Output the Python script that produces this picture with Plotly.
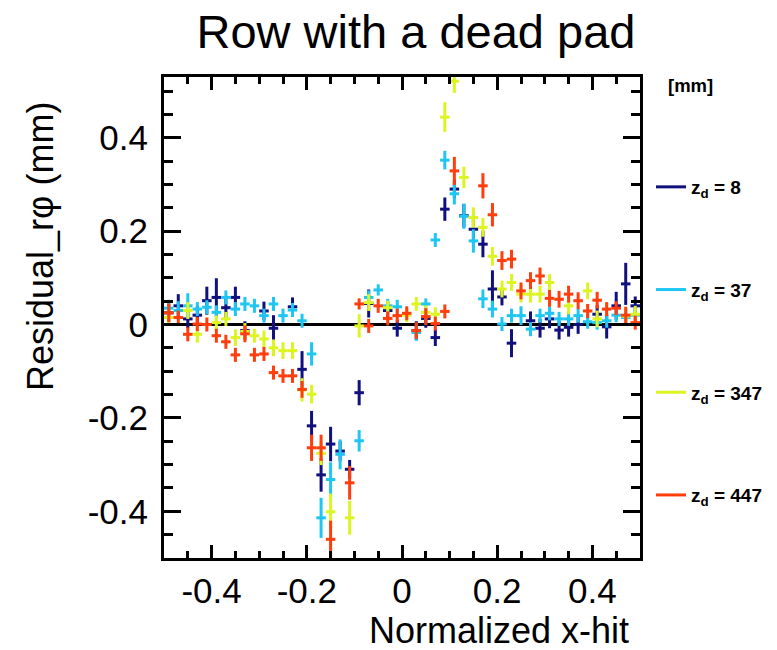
import plotly.graph_objects as go

# bin centres (normalized x-hit)
x_bins = [-0.49, -0.47, -0.45, -0.43, -0.41, -0.39, -0.37, -0.35, -0.33, -0.31,
          -0.29, -0.27, -0.25, -0.23, -0.21, -0.19, -0.17, -0.15, -0.13, -0.11,
          -0.09, -0.07, -0.05, -0.03, -0.01, 0.01, 0.03, 0.05, 0.07, 0.09,
          0.11, 0.13, 0.15, 0.17, 0.19, 0.21, 0.23, 0.25, 0.27, 0.29,
          0.31, 0.33, 0.35, 0.37, 0.39, 0.41, 0.43, 0.45, 0.47, 0.49]
x_half_width = 0.0100

series_names = ["z<sub>d</sub> = 8", "z<sub>d</sub> = 37", "z<sub>d</sub> = 347", "z<sub>d</sub> = 447"]
series_colors = ["#10107e", "#1ec6f2", "#dcf520", "#ff3d0d"]

res_z8 = [0.025, 0.040, 0.012, 0.020, 0.051, 0.058, 0.036, 0.058, -0.013, None,
          0.029, -0.008, None, 0.038, -0.096, -0.217, -0.322, -0.256, -0.271, -0.310,
          -0.146, 0.045, None, 0.030, -0.008, None, -0.013, 0.013, -0.028, 0.247,
          0.290, 0.233, 0.204, 0.172, 0.076, 0.059, -0.040, None, 0.008, -0.008,
          0.012, -0.012, -0.006, 0.000, None, 0.022, -0.005, 0.040, 0.087, 0.040]
err_z8 = [0.020, 0.025, 0.020, 0.020, 0.030, 0.041, 0.022, 0.023, 0.020, None,
          0.020, 0.028, None, 0.020, 0.039, 0.032, 0.036, 0.037, 0.021, 0.020,
          0.027, 0.030, None, 0.020, 0.018, None, 0.020, 0.020, 0.018, 0.025,
          0.020, 0.025, 0.030, 0.028, 0.040, 0.018, 0.030, None, 0.020, 0.020,
          0.020, 0.020, 0.020, 0.020, None, 0.020, 0.025, 0.030, 0.045, 0.020]

res_z37 = [0.035, 0.030, 0.040, 0.033, 0.037, 0.026, 0.058, 0.033, 0.044, 0.040,
           0.019, 0.044, 0.019, 0.031, 0.008, -0.063, -0.414, -0.332, -0.278, None,
           -0.249, 0.058, 0.074, 0.040, 0.038, None, -0.017, 0.044, 0.181, 0.352,
           0.280, 0.232, 0.179, 0.055, 0.033, 0.001, 0.019, 0.019, -0.010, 0.019,
           0.024, 0.012, 0.012, 0.019, 0.006, 0.004, 0.008, 0.020, 0.015, 0.020]
err_z37 = [0.018, 0.020, 0.027, 0.015, 0.015, 0.015, 0.015, 0.015, 0.015, 0.015,
           0.015, 0.015, 0.015, 0.015, 0.015, 0.025, 0.043, 0.037, 0.032, None,
           0.023, 0.015, 0.012, 0.015, 0.015, None, 0.018, 0.012, 0.015, 0.020,
           0.023, 0.027, 0.025, 0.020, 0.018, 0.015, 0.015, 0.020, 0.015, 0.015,
           0.015, 0.015, 0.015, 0.015, 0.015, 0.015, 0.015, 0.015, 0.015, 0.015]

res_z347 = [0.015, None, 0.030, -0.021, None, 0.004, 0.012, -0.028, -0.015, -0.024,
            -0.031, -0.050, -0.056, -0.056, -0.140, -0.149, -0.276, -0.401, None, -0.414,
            -0.003, 0.047, None, 0.036, None, 0.020, 0.044, 0.026, 0.022, 0.444,
            0.521, 0.315, 0.229, 0.208, 0.146, 0.076, 0.090, 0.065, 0.065, 0.065,
            0.090, None, 0.040, None, 0.072, 0.012, None, None, 0.018, 0.022]
err_z347 = [0.018, None, 0.018, 0.018, None, 0.015, 0.015, 0.018, 0.018, 0.015,
            0.018, 0.018, 0.018, 0.018, 0.025, 0.020, 0.025, 0.039, None, 0.036,
            0.025, 0.018, None, 0.015, None, 0.015, 0.015, 0.015, 0.015, 0.032,
            0.025, 0.023, 0.022, 0.020, 0.020, 0.018, 0.018, 0.018, 0.018, 0.018,
            0.018, None, 0.018, None, 0.018, 0.018, None, None, 0.018, 0.018]

res_z447 = [0.025, 0.015, -0.021, 0.001, 0.000, -0.024, -0.037, -0.065, -0.020, -0.065,
            -0.063, -0.103, -0.110, -0.110, -0.139, -0.264, -0.264, -0.460, None, -0.339,
            0.044, -0.003, 0.040, 0.013, 0.019, 0.024, -0.013, 0.017, 0.002, 0.028,
            0.329, None, None, 0.297, 0.235, 0.137, 0.140, 0.072, 0.094, 0.104,
            0.056, 0.054, 0.065, 0.051, 0.029, 0.052, 0.033, 0.035, 0.020, 0.004]
err_z447 = [0.020, 0.015, 0.015, 0.015, 0.015, 0.015, 0.015, 0.015, 0.018, 0.015,
            0.015, 0.015, 0.015, 0.015, 0.018, 0.028, 0.028, 0.040, None, 0.036,
            0.012, 0.015, 0.015, 0.015, 0.015, 0.015, 0.018, 0.018, 0.015, 0.015,
            0.030, None, None, 0.027, 0.025, 0.020, 0.020, 0.018, 0.018, 0.018,
            0.018, 0.018, 0.018, 0.018, 0.015, 0.018, 0.015, 0.015, 0.018, 0.015]

tick_vals = [-0.4, -0.2, 0, 0.2, 0.4]
tick_text = ["-0.4", "-0.2", "0", "0.2", "0.4"]
x_range = [-0.5, 0.5]
y_range = [-0.5, 0.53]

all_res = [res_z8, res_z37, res_z347, res_z447]
all_err = [err_z8, err_z37, err_z347, err_z447]

FONT = "Liberation Sans, Arial, sans-serif"

fig = go.Figure()
for name, color, res, err in zip(series_names, series_colors, all_res, all_err):
    xs = [x for x, v in zip(x_bins, res) if v is not None]
    ys = [v for v in res if v is not None]
    es = [e for v, e in zip(res, err) if v is not None]
    fig.add_trace(go.Scatter(
        x=xs, y=ys, mode="markers",
        marker=dict(size=1, color=color),
        error_y=dict(type="data", array=es, color=color, thickness=3, width=0),
        error_x=dict(type="constant", value=x_half_width, color=color, thickness=3, width=0),
        showlegend=False, hoverinfo="skip", cliponaxis=True,
    ))

# legend entries (line samples)
for i, (name, color) in enumerate(zip(series_names, series_colors)):
    fig.add_trace(go.Scatter(
        x=[None], y=[None], mode="lines", name="<b>" + name + "</b>",
        line=dict(color=color, width=3), legendgroup="g%d" % i, showlegend=True,
    ))

fig.update_layout(
    width=777, height=650,
    margin=dict(l=164, r=137, t=77, b=92, autoexpand=False),
    paper_bgcolor="white", plot_bgcolor="white",
    font=dict(family=FONT, color="black"),
    title=dict(text="Row with a dead pad", x=416 / 777, xanchor="center",
               y=1 - 32 / 650, yanchor="middle",
               font=dict(family=FONT, size=47, color="black")),
    xaxis=dict(range=x_range, tickmode="array", tickvals=tick_vals, ticktext=tick_text,
               ticks="inside", ticklen=13, tickwidth=3, tickcolor="black",
               showline=True, linecolor="black", linewidth=3, mirror="ticks",
               showgrid=False, zeroline=False,
               tickfont=dict(family=FONT, size=35, color="black"),
               minor=dict(dtick=0.05, tick0=0, ticks="inside", ticklen=7,
                          tickwidth=2.5, tickcolor="black", showgrid=False)),
    yaxis=dict(range=y_range, tickmode="array", tickvals=tick_vals, ticktext=tick_text,
               ticks="inside", ticklen=17, tickwidth=3, tickcolor="black",
               showline=True, linecolor="black", linewidth=3, mirror="ticks",
               showgrid=False, zeroline=True, zerolinecolor="black", zerolinewidth=3,
               ticklabelstandoff=6,
               tickfont=dict(family=FONT, size=35, color="black"),
               minor=dict(dtick=0.05, tick0=0, ticks="inside", ticklen=9,
                          tickwidth=2.5, tickcolor="black", showgrid=False)),
    legend=dict(x=(651 - 164) / 476, xanchor="left", y=(558 - 168) / 481, yanchor="top",
                bgcolor="rgba(0,0,0,0)", borderwidth=0,
                font=dict(family=FONT, size=19, color="black"),
                tracegroupgap=75, itemwidth=30, traceorder="grouped"),
    annotations=[
        dict(text="Normalized x-hit", xref="paper", yref="paper",
             x=(631 - 164) / 476, xanchor="right", y=(558 - 630) / 481, yanchor="middle",
             showarrow=False, font=dict(family=FONT, size=36, color="black")),
        dict(text="Residual_r\u03c6 (mm)", xref="paper", yref="paper", textangle=-90,
             x=(41 - 164) / 476, xanchor="center", y=(558 - 246) / 481, yanchor="middle",
             showarrow=False, font=dict(family=FONT, size=36, color="black")),
        dict(text="<b>[mm]</b>", xref="paper", yref="paper",
             x=(666 - 164) / 476, xanchor="left", y=(558 - 85) / 481, yanchor="middle",
             showarrow=False, font=dict(family=FONT, size=18.5, color="black")),
    ],
)

fig.write_html("out.html")
